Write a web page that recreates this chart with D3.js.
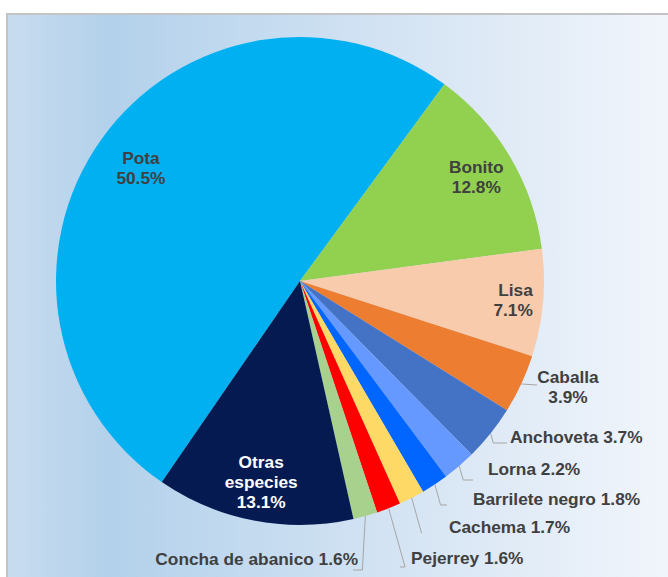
<!DOCTYPE html>
<html>
<head>
<meta charset="utf-8">
<script src="https://cdn.jsdelivr.net/npm/d3@7"></script>
<style>
  html, body { margin: 0; padding: 0; background: #fff; }
  svg { display: block; }
  text { font-family: "Liberation Sans", Arial, sans-serif; font-weight: bold; }
</style>
</head>
<body>
<div id="chart"></div>
<script>
// species shares (%), clockwise from the Pota slice
const species = ["Pota", "Bonito", "Lisa", "Caballa", "Anchoveta", "Lorna",
  "Barrilete negro", "Cachema", "Pejerrey", "Concha de abanico", "Otras especies"];
const shares = [50.5, 12.8, 7.1, 3.9, 3.7, 2.2, 1.8, 1.7, 1.6, 1.6, 13.1];
const colors = ["#00B0F0", "#92D050", "#F8CBAD", "#ED7D31", "#4472C4", "#6699FF",
  "#0066FF", "#FFD966", "#FF0000", "#A9D18E", "#061A52"];

// label layout: inside labels sit at a fraction of the radius,
// callouts get an elbow (y), line end x and text x/y
const inside = {
  "Pota": { r: 0.80, lines: ["Pota", "50.5%"] },
  "Bonito": { r: 0.84, lines: ["Bonito", "12.8%"] },
  "Lisa": { r: 0.88, lines: ["Lisa", "7.1%"], anchor: "end", dx: 19 },
  "Otras especies": { r: 0.84, lines: ["Otras", "especies", "13.1%"], fill: "#fff" }
};
const callouts = {
  "Caballa":           { ey: 385, ex: 537, tx: 568, ty: 377, anchor: "middle", lines: ["Caballa", "3.9%"] },
  "Anchoveta":         { ey: 443, ex: 507, tx: 510, ty: 437, anchor: "start" },
  "Lorna":             { ey: 480, ex: 473, tx: 488, ty: 469, anchor: "start" },
  "Barrilete negro":   { ey: 505, ex: 447, tx: 473, ty: 499, anchor: "start" },
  "Cachema":           { ey: 533, ex: 422, tx: 449, ty: 527, anchor: "start" },
  "Pejerrey":          { ey: 567, ex: 400, tx: 411, ty: 558, anchor: "start" },
  "Concha de abanico": { ey: 570, ex: 353, tx: 358, ty: 559, anchor: "end" }
};

const width = 668, height = 577;
const cx = 300, cy = 281, R = 244;
const startDeg = -145.5;

const svg = d3.select("#chart").append("svg")
  .attr("width", width).attr("height", height);

const defs = svg.append("defs");
const grad = defs.append("linearGradient").attr("id", "bg")
  .attr("x1", "0%").attr("x2", "100%").attr("y1", "0%").attr("y2", "0%");
grad.append("stop").attr("offset", "0%").attr("stop-color", "#C8DCEF");
grad.append("stop").attr("offset", "15%").attr("stop-color", "#B3D1EB");
grad.append("stop").attr("offset", "55%").attr("stop-color", "#D3E3F3");
grad.append("stop").attr("offset", "100%").attr("stop-color", "#F4F7FC");

// plot frame (runs off the right and bottom edges)
svg.append("rect")
  .attr("x", 7).attr("y", 14).attr("width", width + 20).attr("height", height + 20)
  .attr("fill", "url(#bg)").attr("stroke", "#C4C4C4").attr("stroke-width", 2);

const data = species.map((s, i) => ({ name: s, value: shares[i], color: colors[i] }));

const pie = d3.pie().sort(null).value(d => d.value)
  .startAngle(startDeg * Math.PI / 180)
  .endAngle(startDeg * Math.PI / 180 + 2 * Math.PI);
const arcs = pie(data);
const arc = d3.arc().innerRadius(0).outerRadius(R);

const g = svg.append("g").attr("transform", `translate(${cx},${cy})`);

g.selectAll("path.slice").data(arcs).enter().append("path")
  .attr("class", "slice")
  .attr("d", arc)
  .attr("fill", d => d.data.color);

const fs = 17.3, lh = 20;

// inside labels
arcs.filter(d => inside[d.data.name]).forEach(d => {
  const o = inside[d.data.name];
  const a = (d.startAngle + d.endAngle) / 2;
  const x = Math.sin(a) * R * o.r + (o.dx || 0);
  const y = -Math.cos(a) * R * o.r;
  const t = g.append("text")
    .attr("text-anchor", o.anchor || "middle")
    .attr("font-size", fs)
    .attr("fill", o.fill || "#404040");
  const y0 = y - (o.lines.length - 1) * lh / 2;
  o.lines.forEach((ln, i) => {
    t.append("tspan").attr("x", x).attr("y", y0 + i * lh).attr("dy", "0.35em").text(ln);
  });
});

// callouts with leader lines
const leaders = svg.append("g");
arcs.filter(d => callouts[d.data.name]).forEach(d => {
  const o = callouts[d.data.name];
  const a = (d.startAngle + d.endAngle) / 2;
  const px = cx + Math.sin(a) * R, py = cy - Math.cos(a) * R;
  const ex = o.anchor === "end" ? px - 3 : px + (o.ey - py) * 0.28;
  const pts = o.anchor === "middle"
    ? [[px, py], [o.ex, o.ey]]
    : [[px, py], [ex, o.ey], [o.ex, o.ey]];
  leaders.append("path")
    .attr("d", d3.line()(pts))
    .attr("fill", "none").attr("stroke", "#A6A6A6").attr("stroke-width", 1);

  const lines = o.lines || [`${d.data.name} ${d3.format(".1f")(d.data.value)}%`];
  const t = leaders.append("text")
    .attr("text-anchor", o.anchor)
    .attr("font-size", fs)
    .attr("fill", "#404040");
  lines.forEach((ln, i) => {
    t.append("tspan").attr("x", o.tx).attr("y", o.ty + i * lh).attr("dy", "0.35em").text(ln);
  });
});
</script>
</body>
</html>
